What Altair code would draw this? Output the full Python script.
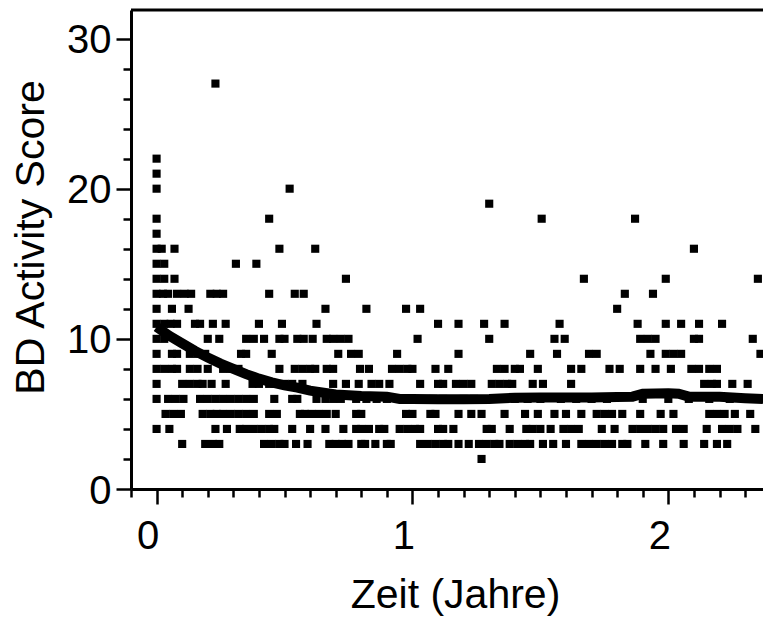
import altair as alt
import pandas as pd

# ---- data: BD activity score (integer) vs time in years, one list per score level ----
row_2 = [1.27]
row_3 = [0.10, 0.19, 0.22, 0.245, 0.42, 0.45, 0.48, 0.50, 0.545, 0.59, 0.675, 0.70, 0.725, 0.75,
         0.80, 0.815, 0.855, 0.90, 0.915, 1.03, 1.06, 1.09, 1.12, 1.14, 1.18, 1.22, 1.26, 1.29,
         1.32, 1.34, 1.38, 1.41, 1.44, 1.46, 1.51, 1.55, 1.60, 1.66, 1.69, 1.72, 1.75, 1.78, 1.82,
         1.84, 1.91, 1.98, 2.06, 2.14, 2.19, 2.23]
row_4 = [0.0, 0.05, 0.23, 0.275, 0.325, 0.35, 0.38, 0.41, 0.44, 0.46, 0.53, 0.60, 0.66, 0.73,
         0.78, 0.80, 0.83, 0.87, 0.89, 0.95, 0.98, 1.01, 1.03, 1.10, 1.12, 1.16, 1.29, 1.31, 1.38,
         1.445, 1.47, 1.50, 1.54, 1.59, 1.62, 1.65, 1.74, 1.79, 1.86, 1.89, 1.92, 1.95, 1.98, 2.03,
         2.06, 2.15, 2.21, 2.24, 2.27, 2.34]
row_5 = [0.035, 0.065, 0.095, 0.18, 0.21, 0.235, 0.26, 0.29, 0.32, 0.35, 0.38, 0.44, 0.47, 0.56,
         0.58, 0.605, 0.635, 0.665, 0.70, 0.78, 0.80, 0.975, 1.0, 1.07, 1.09, 1.18, 1.23, 1.27,
         1.36, 1.44, 1.49, 1.555, 1.60, 1.66, 1.72, 1.75, 1.78, 1.82, 1.89, 1.97, 2.02, 2.16, 2.19,
         2.22, 2.26, 2.32]
row_6 = [0.0, 0.045, 0.075, 0.105, 0.17, 0.20, 0.23, 0.26, 0.29, 0.32, 0.35, 0.38, 0.46, 0.53,
         0.55, 0.625, 0.66, 0.69, 0.72, 0.78, 0.82, 0.86, 0.90, 1.08, 1.12, 1.20, 1.24, 1.34, 1.40,
         1.45, 1.50, 1.58, 1.64, 1.70, 1.76, 1.90, 2.00, 2.08, 2.16, 2.24, 2.30, 2.36]
row_7 = [0.0, 0.10, 0.13, 0.16, 0.18, 0.215, 0.27, 0.375, 0.40, 0.44, 0.47, 0.50, 0.53, 0.57,
         0.69, 0.74, 0.79, 0.84, 0.87, 0.91, 1.03, 1.10, 1.12, 1.17, 1.20, 1.23, 1.31, 1.34, 1.37,
         1.39, 1.47, 1.51, 1.62, 2.14, 2.17, 2.19, 2.25, 2.31]
row_8 = [0.0, 0.03, 0.06, 0.08, 0.13, 0.16, 0.20, 0.26, 0.29, 0.32, 0.48, 0.54, 0.57, 0.60, 0.62,
         0.665, 0.69, 0.795, 0.83, 0.92, 0.95, 0.98, 1.0, 1.09, 1.14, 1.33, 1.36, 1.40, 1.42, 1.49,
         1.62, 1.66, 1.77, 1.81, 1.89, 1.95, 2.01, 2.09, 2.12, 2.16, 2.19]
row_9 = [0.0, 0.06, 0.08, 0.13, 0.16, 0.19, 0.33, 0.35, 0.45, 0.71, 0.76, 0.79, 0.94, 1.18, 1.46,
         1.565, 1.69, 1.72, 1.93, 1.99, 2.02, 2.05, 2.36]
row_10 = [0.0, 0.03, 0.20, 0.245, 0.35, 0.38, 0.42, 0.48, 0.50, 0.55, 0.575, 0.61, 0.665, 0.69,
          0.72, 0.75, 1.02, 1.30, 1.555, 1.595, 1.89, 1.92, 1.95, 2.10, 2.12, 2.33]
row_11 = [0.0, 0.03, 0.055, 0.08, 0.15, 0.17, 0.22, 0.27, 0.40, 0.49, 0.625, 1.10, 1.18, 1.28,
          1.36, 1.575, 1.88, 1.99, 2.05, 2.12, 2.21]
row_12 = [0.0, 0.06, 0.125, 0.66, 0.82, 0.975, 1.03, 1.80]
row_13 = [0.0, 0.025, 0.045, 0.08, 0.11, 0.135, 0.21, 0.235, 0.26, 0.44, 0.54, 0.575, 1.83, 1.94]
row_14 = [0.0, 0.03, 0.07, 0.74, 1.67, 1.99, 2.35]
row_15 = [0.0, 0.03, 0.31, 0.39]
row_16 = [0.0, 0.02, 0.07, 0.48, 0.62, 2.10]
row_17 = [0.0]
row_18 = [0.0, 0.44, 1.505, 1.87]
row_19 = [1.30]
row_20 = [0.0, 0.52]
row_21 = [0.0]
row_22 = [0.0]
row_27 = [0.23]

rows = {2: row_2, 3: row_3, 4: row_4, 5: row_5, 6: row_6, 7: row_7, 8: row_8, 9: row_9,
        10: row_10, 11: row_11, 12: row_12, 13: row_13, 14: row_14, 15: row_15, 16: row_16,
        17: row_17, 18: row_18, 19: row_19, 20: row_20, 21: row_21, 22: row_22, 27: row_27}

# fitted curve
curve_x = [0.0, 0.05, 0.10, 0.15, 0.20, 0.25, 0.30, 0.35, 0.40, 0.45, 0.50, 0.55, 0.60, 0.70,
           0.80, 0.90, 0.95, 1.00, 1.10, 1.20, 1.30, 1.40, 1.50, 1.60, 1.70, 1.80, 1.86, 1.90,
           2.00, 2.04, 2.08, 2.20, 2.30, 2.37]
curve_y = [10.8, 10.2, 9.7, 9.2, 8.75, 8.35, 8.0, 7.65, 7.35, 7.1, 6.9, 6.75, 6.55, 6.3,
           6.2, 6.15, 6.0, 6.0, 5.98, 5.98, 6.0, 6.08, 6.1, 6.1, 6.1, 6.12, 6.15, 6.35,
           6.38, 6.35, 6.15, 6.14, 6.05, 6.0]

# axis ticks
x_ticks = [round(i * 0.1, 1) for i in range(-1, 24)]
y_ticks = list(range(0, 31, 2))

pts = pd.DataFrame([{"t": x, "score": s} for s, xs in rows.items() for x in xs])
crv = pd.DataFrame({"t": curve_x, "score": curve_y})

W, H = 632, 479
FONT = "Liberation Sans"

xscale = alt.Scale(domain=[-0.1, 2.37], nice=False, zero=False)
yscale = alt.Scale(domain=[0, 31.9], nice=False, zero=False)

x_major = "abs(datum.value - round(datum.value)) < 0.001"
y_major = "datum.value % 10 === 0"

x_axis = alt.Axis(
    values=x_ticks, title="Zeit (Jahre)", grid=False,
    labelExpr=f"{x_major} ? toString(round(datum.value)) : ''",
    tickSize={"condition": {"test": x_major, "value": 15}, "value": 8},
    tickWidth=2.5, tickColor="black", domainColor="black", domainWidth=3,
    labelFont=FONT, labelFontSize=40, labelColor="black", labelBaseline="alphabetic",
    labelPadding=44, labelOffset=-9, labelFlush=False, labelOverlap=False, labelBound=False,
    titleFont=FONT, titleFontSize=41, titleFontWeight="normal", titleColor="black",
    titleX=324, titleY=118, titleBaseline="alphabetic", titleAlign="center",
)
y_axis = alt.Axis(
    values=y_ticks, title="BD Activity Score", grid=False,
    labelExpr=f"{y_major} ? toString(datum.value) : ''",
    tickSize={"condition": {"test": y_major, "value": 15}, "value": 8},
    tickWidth=2.5, tickColor="black", domainColor="black", domainWidth=3,
    labelFont=FONT, labelFontSize=40, labelColor="black", labelPadding=5,
    labelOffset=2, labelFlush=False, labelOverlap=False, labelBound=False,
    titleFont=FONT, titleFontSize=41, titleFontWeight="normal", titleColor="black",
    titleAngle=270, titleX=-88, titleY=227, titleBaseline="alphabetic", titleAlign="center",
)

points = alt.Chart(pts).mark_square(size=66, color="black", opacity=1).encode(
    x=alt.X("t:Q", scale=xscale, axis=x_axis),
    y=alt.Y("score:Q", scale=yscale, axis=y_axis),
)
line = alt.Chart(crv).mark_line(color="black", strokeWidth=10).encode(
    x=alt.X("t:Q", scale=xscale, axis=x_axis),
    y=alt.Y("score:Q", scale=yscale, axis=y_axis),
)
top = alt.Chart(pd.DataFrame({"a": [0]})).mark_rule(color="black", strokeWidth=3).encode(
    x=alt.value(0), x2=alt.value(W), y=alt.value(0)
)

chart = alt.layer(points, line, top).properties(
    width=W, height=H,
    autosize=alt.AutoSizeParams(type="none"),
    padding={"left": 131, "top": 10, "right": 0, "bottom": 128},
).configure_view(stroke=None).configure_axis(
    labelOverlap=False, labelFlush=False
).configure(background="white")

chart.save("out.html", embed_options={"renderer": "svg", "actions": False})
